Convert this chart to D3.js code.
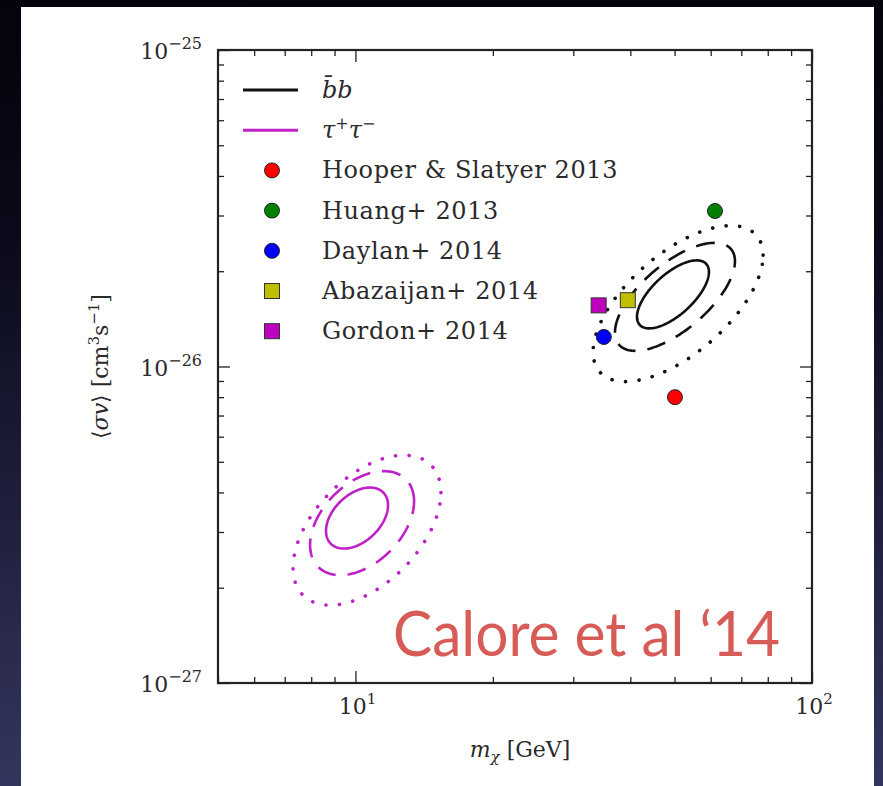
<!DOCTYPE html>
<html><head><meta charset="utf-8">
<script src="https://cdn.jsdelivr.net/npm/d3@7"></script>
<style>html,body{margin:0;padding:0;overflow:hidden;background:#000;}</style>
</head><body>
<svg id="chart" width="883" height="786"></svg>
<script>
// ---------------- data ----------------
const xDomain = [5, 100];
const yDomain = [1e-27, 1e-25];
const xMajorTicks = [10, 100];
const xTickExponents = ["1", "2"];
const yMajorTicks = [1e-27, 1e-26, 1e-25];
const yTickExponents = ["\u221227", "\u221226", "\u221225"];

const pointNames  = ["Hooper & Slatyer 2013", "Huang+ 2013", "Daylan+ 2014", "Abazaijan+ 2014", "Gordon+ 2014"];
const pointMass   = [50.1, 61.3, 35.0, 39.5, 34.1];
const pointSigma  = [8.0e-27, 3.1e-26, 1.24e-26, 1.62e-26, 1.56e-26];
const pointShapes = ["circle", "circle", "circle", "square", "square"];
const pointColors = ["#ff0000", "#007f00", "#0000ff", "#bfbf00", "#bf00bf"];

const channelNames  = ["bb", "tau"];
const channelColors = ["#111111", "#c020c8"];

const contourChannel      = [0, 0, 0, 1, 1, 1];
const contourLevel        = [1, 2, 3, 1, 2, 3];
const contourCenterMass   = [49.6, 50.1, 50.9, 10.08, 10.34, 10.6];
const contourCenterSigma  = [1.69e-26, 1.66e-26, 1.58e-26, 3.32e-27, 3.20e-27, 3.04e-27];
const contourHalfWidthDex = [0.0788, 0.1314, 0.1862, 0.0679, 0.1139, 0.162];
const contourHalfHeightDex= [0.1074, 0.1706, 0.2464, 0.0964, 0.1643, 0.237];
const contourCorrelation  = [0.66, 0.66, 0.62, 0.42, 0.42, 0.50];

const annotationText = "Calore et al \u201814";

// ---------------- layout ----------------
const W = 883, H = 786;
const plot = {left: 218, right: 812, top: 50, bottom: 683};
const serif = "'DejaVu Serif', 'Liberation Serif', serif";

const svg = d3.select("#chart");
const defs = svg.append("defs");
const grad = defs.append("linearGradient").attr("id", "bg").attr("x1", 0).attr("y1", 0).attr("x2", 0).attr("y2", 1);
grad.append("stop").attr("offset", "0%").attr("stop-color", "#04040c");
grad.append("stop").attr("offset", "30%").attr("stop-color", "#0a0a1a");
grad.append("stop").attr("offset", "100%").attr("stop-color", "#34355e");
svg.append("rect").attr("width", W).attr("height", H).attr("fill", "url(#bg)");
svg.append("rect").attr("x", 21).attr("y", 7).attr("width", 853).attr("height", H - 7).attr("fill", "#ffffff");

const x = d3.scaleLog().domain(xDomain).range([plot.left, plot.right]);
const y = d3.scaleLog().domain(yDomain).range([plot.bottom, plot.top]);

const clipId = "plotclip";
defs.append("clipPath").attr("id", clipId).append("rect")
  .attr("x", plot.left).attr("y", plot.top)
  .attr("width", plot.right - plot.left).attr("height", plot.bottom - plot.top);

// ---------------- contours ----------------
const dashStyles = {1: null, 2: "19,12", 3: "0.1,13.5"};
const gC = svg.append("g").attr("clip-path", `url(#${clipId})`);
contourChannel.forEach((ch, i) => {
  const lx0 = Math.log10(contourCenterMass[i]);
  const ly0 = Math.log10(contourCenterSigma[i]);
  const A = contourHalfWidthDex[i], B = contourHalfHeightDex[i];
  const delta = Math.acos(contourCorrelation[i]);
  const pts = d3.range(0, 361, 2).map(deg => {
    const t = deg * Math.PI / 180;
    return [x(Math.pow(10, lx0 + A * Math.cos(t))), y(Math.pow(10, ly0 + B * Math.cos(t - delta)))];
  });
  const lvl = contourLevel[i];
  gC.append("path")
    .attr("d", d3.line().curve(d3.curveLinearClosed)(pts))
    .attr("fill", "none")
    .attr("stroke", channelColors[ch])
    .attr("stroke-width", lvl === 3 ? 3.6 : 2.6)
    .attr("stroke-linecap", lvl === 3 ? "round" : "butt")
    .attr("stroke-dasharray", dashStyles[lvl]);
});

// ---------------- points ----------------
function drawMarker(g, shape, cx, cy, color) {
  if (shape === "circle") {
    g.append("circle").attr("cx", cx).attr("cy", cy).attr("r", 7.5)
      .attr("fill", color).attr("stroke", "#222").attr("stroke-width", 1);
  } else {
    g.append("rect").attr("x", cx - 7.5).attr("y", cy - 7.5).attr("width", 15).attr("height", 15)
      .attr("fill", color).attr("stroke", "#333").attr("stroke-width", 1);
  }
}
const gP = svg.append("g");
pointNames.forEach((n, i) => {
  drawMarker(gP, pointShapes[i], x(pointMass[i]), y(pointSigma[i]), pointColors[i]);
});

// ---------------- axes ----------------
const frameColor = "#222";
const xMinor = x.ticks().filter(v => !xMajorTicks.includes(v));
const yMinor = y.ticks().filter(v => !yMajorTicks.some(m => Math.abs(m - v) / m < 1e-6));

function tickAxis(axisFn, scale, vals, size, transform) {
  const a = axisFn(scale).tickValues(vals).tickSize(size).tickFormat("");
  const g = svg.append("g").attr("transform", transform).call(a);
  g.select(".domain").remove();
  g.selectAll(".tick line").attr("stroke", frameColor).attr("stroke-width", 1.3);
  return g;
}
tickAxis(d3.axisBottom, x, xMinor, -6, `translate(0,${plot.bottom})`);
tickAxis(d3.axisBottom, x, xMajorTicks, -12, `translate(0,${plot.bottom})`);
tickAxis(d3.axisTop, x, xMinor, -6, `translate(0,${plot.top})`);
tickAxis(d3.axisTop, x, xMajorTicks, -12, `translate(0,${plot.top})`);
tickAxis(d3.axisLeft, y, yMinor, -6, `translate(${plot.left},0)`);
tickAxis(d3.axisLeft, y, yMajorTicks, -12, `translate(${plot.left},0)`);
tickAxis(d3.axisRight, y, yMinor, -6, `translate(${plot.right},0)`);
tickAxis(d3.axisRight, y, yMajorTicks, -12, `translate(${plot.right},0)`);

svg.append("rect").attr("x", plot.left).attr("y", plot.top)
  .attr("width", plot.right - plot.left).attr("height", plot.bottom - plot.top)
  .attr("fill", "none").attr("stroke", frameColor).attr("stroke-width", 2.2);

// tick labels
const txtColor = "#2a2a2a";
xMajorTicks.forEach((v, i) => {
  const t = svg.append("text").attr("x", x(v) + 2).attr("y", 714).attr("text-anchor", "middle")
    .attr("font-family", serif).attr("font-size", 22).attr("fill", txtColor);
  t.append("tspan").text("10");
  t.append("tspan").attr("dy", -10).attr("font-size", 15).text(xTickExponents[i]);
});
yMajorTicks.forEach((v, i) => {
  const t = svg.append("text").attr("x", 202).attr("y", y(v) + 9).attr("text-anchor", "end")
    .attr("font-family", serif).attr("font-size", 22).attr("fill", txtColor);
  t.append("tspan").text("10");
  t.append("tspan").attr("dy", -10).attr("font-size", 16).text(yTickExponents[i]);
});

// axis titles
const xl = svg.append("text").attr("x", 520).attr("y", 757).attr("text-anchor", "middle")
  .attr("font-family", serif).attr("font-size", 22).attr("fill", txtColor);
xl.append("tspan").attr("font-style", "italic").text("m");
xl.append("tspan").attr("dy", 5).attr("font-size", 15).attr("font-style", "italic").text("\u03c7");
xl.append("tspan").attr("dy", -5).text(" [GeV]");

const yl = svg.append("text").attr("transform", `translate(108,${(plot.top + plot.bottom) / 2}) rotate(-90)`)
  .attr("text-anchor", "middle").attr("font-family", serif).attr("font-size", 22).attr("fill", txtColor);
yl.append("tspan").text("\u27e8");
yl.append("tspan").attr("font-style", "italic").text("\u03c3v");
yl.append("tspan").text("\u27e9 [cm");
yl.append("tspan").attr("dy", -9).attr("font-size", 15).text("3");
yl.append("tspan").attr("dy", 9).text("s");
yl.append("tspan").attr("dy", -9).attr("font-size", 15).text("\u22121");
yl.append("tspan").attr("dy", 9).text("]");

// ---------------- legend ----------------
const legX = 243, legTextX = 322, legY0 = 90, legDY = 40.2;
const legFont = 24;
const gL = svg.append("g");
channelNames.forEach((c, i) => {
  const yy = legY0 + i * legDY;
  gL.append("line").attr("x1", legX).attr("x2", legX + 55).attr("y1", yy).attr("y2", yy)
    .attr("stroke", channelColors[i]).attr("stroke-width", 3);
  const t = gL.append("text").attr("x", legTextX).attr("y", yy + 8)
    .attr("font-family", serif).attr("font-size", legFont).attr("font-style", "italic").attr("fill", txtColor);
  if (c === "bb") {
    t.text("b\u0304b");
  } else {
    t.append("tspan").text("\u03c4");
    t.append("tspan").attr("dy", -9).attr("font-size", 16).attr("font-style", "normal").text("+");
    t.append("tspan").attr("dy", 9).text("\u03c4");
    t.append("tspan").attr("dy", -9).attr("font-size", 16).attr("font-style", "normal").text("\u2212");
  }
});
pointNames.forEach((n, i) => {
  const yy = legY0 + (i + 2) * legDY;
  drawMarker(gL, pointShapes[i], legX + 29, yy, pointColors[i]);
  gL.append("text").attr("x", legTextX).attr("y", yy + 8)
    .attr("font-family", serif).attr("font-size", legFont).attr("letter-spacing", 0.6)
    .attr("fill", txtColor).text(n);
});

// ---------------- annotation ----------------
svg.append("text").attr("x", 393).attr("y", 656)
  .attr("font-family", "Lato, 'Open Sans', sans-serif").attr("font-size", 62)
  .attr("fill", "#d75b56").attr("textLength", 387).attr("lengthAdjust", "spacingAndGlyphs")
  .text(annotationText);
</script>
</body></html>
